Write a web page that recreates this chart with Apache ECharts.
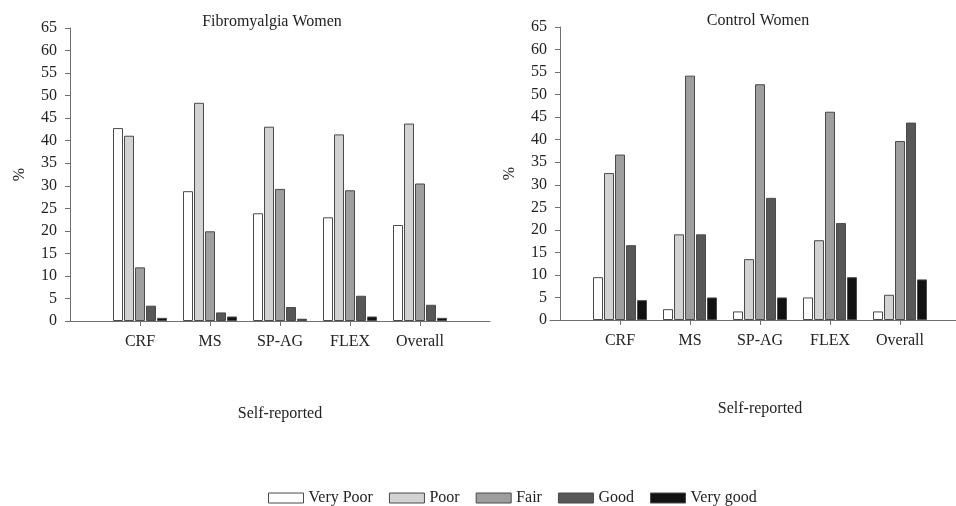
<!DOCTYPE html>
<html>
<head>
<meta charset="utf-8">
<script src="https://cdn.jsdelivr.net/npm/echarts@6/dist/echarts.min.js"></script>
<style>
html, body { margin: 0; padding: 0; background: #fff; }
#chart { width: 956px; height: 506px; }
</style>
</head>
<body>
<div id="chart"></div>
<script>
// self-reported fitness, % of women per level
const categories = ['CRF', 'MS', 'SP-AG', 'FLEX', 'Overall'];
const levels = ['Very Poor', 'Poor', 'Fair', 'Good', 'Very good'];
const yTicks = [0, 65, 5]; // min, max, step

const fmVeryPoor = [42.8, 28.8, 23.9, 23.0, 21.3];
const fmPoor = [41.1, 48.4, 43.1, 41.4, 43.8];
const fmFair = [11.9, 19.9, 29.3, 29.0, 30.5];
const fmGood = [3.4, 1.9, 3.1, 5.6, 3.6];
const fmVeryGood = [0.7, 1.0, 0.5, 1.0, 0.7];

const ctVeryPoor = [9.5, 2.4, 1.9, 5.0, 1.9];
const ctPoor = [32.6, 19.0, 13.5, 17.7, 5.6];
const ctFair = [36.7, 54.2, 52.3, 46.2, 39.7];
const ctGood = [16.6, 19.0, 27.1, 21.5, 43.8];
const ctVeryGood = [4.4, 5.0, 5.0, 9.5, 9.0];

const fillColors = ['#ffffff', '#d2d2d2', '#9e9e9e', '#575757', '#121212'];
const serif = "'Liberation Serif', 'Times New Roman', serif";
const textColor = '#222';
const axisColor = '#707070';

// empty slot at each end so the groups sit one step in from the axis ends
const axisCats = [''].concat(categories, ['']);
const pad = arr => ['-'].concat(arr, ['-']);

let chart = echarts.init(document.getElementById('chart'));

const makeX = function (gridIndex, nameGap) {
    return {
        type: 'category',
        gridIndex: gridIndex,
        data: axisCats,
        boundaryGap: false,
        name: 'Self-reported',
        nameLocation: 'middle',
        nameGap: nameGap,
        nameTextStyle: { fontFamily: serif, fontSize: 16, color: textColor },
        axisLine: { lineStyle: { color: axisColor, width: 1 } },
        axisTick: {
            length: 5,
            interval: (i, v) => v !== '',
            lineStyle: { color: axisColor }
        },
        axisLabel: {
            interval: 0, margin: 13,
            fontFamily: serif, fontSize: 16, color: textColor
        },
        splitLine: { show: false }
    };
};

const makeY = function (gridIndex, offset) {
    return {
        type: 'value',
        gridIndex: gridIndex,
        min: yTicks[0],
        max: yTicks[1],
        interval: yTicks[2],
        offset: offset,
        name: '%',
        nameLocation: 'middle',
        nameRotate: 90,
        nameGap: 42,
        nameTextStyle: { fontFamily: serif, fontSize: 16, color: textColor },
        axisLine: { show: true, lineStyle: { color: axisColor, width: 1 } },
        axisTick: { show: true, length: 5, lineStyle: { color: axisColor } },
        axisLabel: { margin: 13, fontFamily: serif, fontSize: 16, color: textColor },
        splitLine: { show: false }
    };
};

const makeSeries = function (idx, groups) {
    return groups.map((vals, k) => ({
        type: 'bar',
        name: levels[k],
        xAxisIndex: idx,
        yAxisIndex: idx,
        data: pad(vals),
        barWidth: 10,
        barGap: '10%',
        itemStyle: { color: fillColors[k], borderColor: '#4a4a4a', borderWidth: 1 },
        emphasis: { disabled: true }
    }));
};

const option = {
    backgroundColor: '#fff',
    animation: false,
    textStyle: { fontFamily: serif },
    graphic: [
        { type: 'text', x: 272, y: 22, style: { text: 'Fibromyalgia Women', textAlign: 'center', textVerticalAlign: 'middle', font: '16px ' + serif, fill: textColor } },
        { type: 'text', x: 758, y: 21, style: { text: 'Control Women', textAlign: 'center', textVerticalAlign: 'middle', font: '16px ' + serif, fill: textColor } }
    ],
    legend: {
        data: levels,
        left: 263,
        top: 485,
        icon: 'rect',
        itemWidth: 35,
        itemHeight: 10,
        itemGap: 16,
        itemTextGap: 10,
        itemStyle: { borderWidth: 1, borderColor: '#4a4a4a' },
        textStyle: { fontFamily: serif, fontSize: 16, color: textColor }
    },
    grid: [
        { left: 70, top: 28, width: 420, height: 293, outerBoundsMode: 'none' },
        { left: 550, top: 27, width: 420, height: 293, outerBoundsMode: 'none' }
    ],
    xAxis: [makeX(0, 85), makeX(1, 81)],
    yAxis: [makeY(0, 0), makeY(1, -10)],
    series: makeSeries(0, [fmVeryPoor, fmPoor, fmFair, fmGood, fmVeryGood])
        .concat(makeSeries(1, [ctVeryPoor, ctPoor, ctFair, ctGood, ctVeryGood]))
};

chart.setOption(option);
</script>
</body>
</html>
